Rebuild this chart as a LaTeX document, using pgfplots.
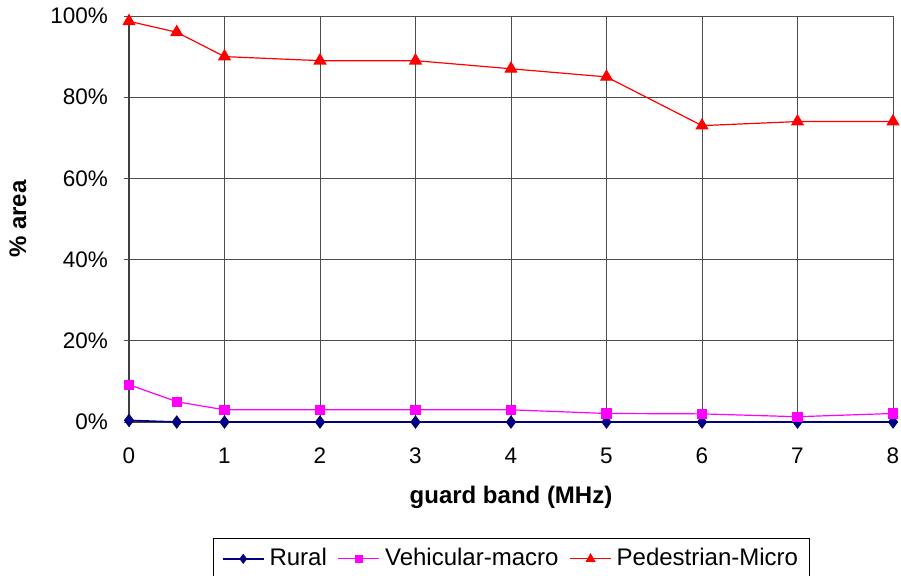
\documentclass[border=0pt]{standalone}
\usepackage{fontspec}
\setmainfont{Liberation Sans}
\usepackage{pgfplots}
\pgfplotsset{compat=1.18}
\definecolor{rural}{RGB}{0,0,128}
\definecolor{vehic}{RGB}{255,0,255}
\definecolor{ped}{RGB}{255,0,0}
\begin{document}
\fontsize{24bp}{28bp}\selectfont
\begin{tikzpicture}
\begin{axis}[
  scale only axis,
  width=764bp, height=406bp,
  xmin=0, xmax=8, ymin=0, ymax=100,
  xtick={0,1,...,8}, ytick={0,20,...,100},
  yticklabel={\pgfmathprintnumber{\tick}\%},
  /pgf/number format/assume math mode=true,
  axis x line=bottom, axis y line=left,
  axis line style={-, black!75, line width=1.2bp},
  tick align=outside, major tick length=5bp,
  tick style={black!70, line width=0.8bp},
  grid=major,
  major grid style={black!70, line width=0.8bp},
  tick label style={font=\fontsize{22.5bp}{26bp}\selectfont},
  xticklabel style={yshift=-13bp},
  yticklabel style={xshift=-8bp},
  xlabel={\textbf{guard band (MHz)}},
  ylabel={\textbf{\% area}},
  label style={font=\fontsize{24bp}{28bp}\selectfont},
  xlabel style={at={(axis description cs:0.5,-0.1847)}, anchor=center},
  ylabel style={at={(axis description cs:-0.1453,0.5)}, anchor=center},
  clip=false,
  legend columns=3,
  legend style={at={(axis description cs:0.5,0)}, anchor=north, yshift=-116bp,
    draw=black, line width=0.8bp, font=\fontsize{24bp}{28bp}\selectfont,
    inner xsep=9bp, inner ysep=8bp,
    /tikz/every odd column/.append style={column sep=3bp},
    /tikz/every even column/.append style={column sep=9bp}},
  legend image code/.code={
    \draw[#1, mark repeat=2, mark phase=2, every mark/.append style={scale=0.7}]
      plot coordinates {(0bp,0bp) (20.5bp,0bp) (41bp,0bp)};},
]
\addplot[rural, line width=1.6bp, mark=diamond*, mark size=5.5bp, mark options={fill=rural, solid}]
  coordinates {(0,0.4) (0.5,0) (1,0) (2,0) (3,0) (4,0) (5,0) (6,0) (7,0) (8,0)};
\addlegendentry{Rural}
\addplot[vehic, line width=1.2bp, mark=square*, mark size=4.5bp, mark options={fill=vehic}]
  coordinates {(0,9.2) (0.5,5) (1,3) (2,3) (3,3) (4,3) (5,2.1) (6,2) (7,1.3) (8,2.1)};
\addlegendentry{Vehicular-macro}
\addplot[ped, line width=1.2bp, mark=triangle*, mark size=6.5bp, mark options={fill=ped}]
  coordinates {(0,98.7) (0.5,96) (1,90) (2,89) (3,89) (4,87) (5,85) (6,73) (7,74) (8,74)};
\addlegendentry{Pedestrian-Micro}
\end{axis}
\pgfresetboundingbox
\path (current axis.south west) ++(-129bp,-154bp) rectangle ++(901bp,576bp);
\end{tikzpicture}
\end{document}
